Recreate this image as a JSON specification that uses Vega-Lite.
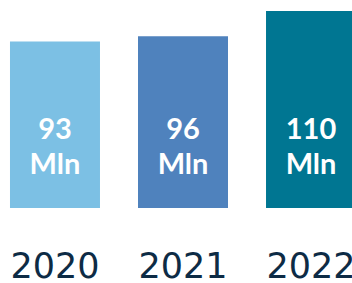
{
  "$schema": "https://vega.github.io/schema/vega-lite/v6.json",
  "width": 366,
  "height": 208,
  "autosize": {"type": "none"},
  "padding": {"left": 0, "top": 0, "right": 0, "bottom": 75},
  "background": "white",
  "config": {"view": {"stroke": null}},
  "data": {
    "values": [
      {"year": "2020", "value": 93, "label": "93 Mln"},
      {"year": "2021", "value": 96, "label": "96 Mln"},
      {"year": "2022", "value": 110, "label": "110 Mln"}
    ]
  },
  "encoding": {
    "x": {
      "field": "year",
      "type": "nominal",
      "scale": {"paddingInner": 0.297, "paddingOuter": 0.078},
      "axis": {
        "title": null,
        "ticks": false,
        "domain": false,
        "labelAngle": 0,
        "labelFont": "DejaVu Sans",
        "labelFontSize": 35,
        "labelColor": "#0d2b45",
        "labelBaseline": "middle",
        "labelPadding": 58
      }
    }
  },
  "layer": [
    {
      "mark": {"type": "bar"},
      "encoding": {
        "y": {"field": "value", "type": "quantitative", "scale": {"domain": [0, 116.2], "nice": false}, "axis": null},
        "color": {
          "field": "year",
          "type": "nominal",
          "scale": {"range": ["#7CC0E4", "#4F82BD", "#007692"]},
          "legend": null
        }
      }
    },
    {
      "mark": {
        "type": "text",
        "color": "white",
        "font": "Lato",
        "fontWeight": "bold",
        "fontSize": 29,
        "lineBreak": " ",
        "lineHeight": 35,
        "baseline": "middle"
      },
      "encoding": {
        "y": {"datum": 43.5, "type": "quantitative"},
        "text": {"field": "label"}
      }
    }
  ]
}
